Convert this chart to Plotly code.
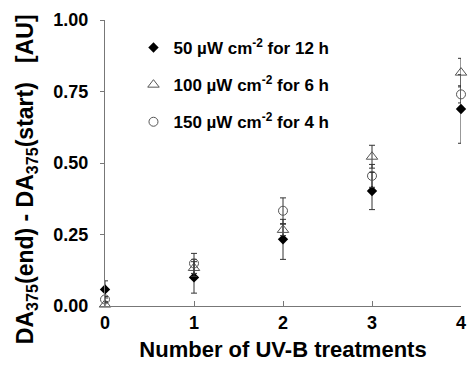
import plotly.graph_objects as go

treatments = [0, 1, 2, 3, 4]
names = ["50 µW cm<sup>-2</sup> for 12 h", "100 µW cm<sup>-2</sup> for 6 h", "150 µW cm<sup>-2</sup> for 4 h"]
s50 = [0.058, 0.100, 0.233, 0.402, 0.689]
s50_err = [0.03, 0.055, 0.07, 0.065, 0.12]
s100 = [0.005, 0.133, 0.266, 0.522, 0.816]
s100_err = [0.01, 0.03, 0.02, 0.04, 0.05]
s150 = [0.023, 0.149, 0.333, 0.455, 0.740]
s150_err = [0.01, 0.035, 0.045, 0.04, 0.03]
y_title = "DA<sub>375</sub>(end) - DA<sub>375</sub>(start)   [AU]"

font = "Liberation Sans, Arial, sans-serif"
fig = go.Figure()
specs = [
    (s50, s50_err, names[0], dict(symbol="diamond", size=8, color="black")),
    (s100, s100_err, names[1], dict(symbol="triangle-up-open", size=10, color="#555555", line=dict(width=1))),
    (s150, s150_err, names[2], dict(symbol="circle-open", size=9, color="#555555", line=dict(width=1))),
]
for i, (ys, es, nm, mk) in enumerate(specs):
    fig.add_trace(go.Scatter(
        x=treatments, y=ys, name=nm, mode="markers", marker=mk,
        error_y=dict(type="data", array=es, visible=True, color="#333333", thickness=1, width=3),
        cliponaxis=False, legendgroup=str(i),
    ))

fig.update_layout(
    width=471, height=373,
    margin=dict(l=105, r=5, t=20, b=67),
    paper_bgcolor="white", plot_bgcolor="white",
    font=dict(family=font, color="black"),
    showlegend=True,
    legend=dict(x=0.08, y=0.965, xanchor="left", yanchor="top", bgcolor="rgba(0,0,0,0)",
                font=dict(size=17, family=font, weight="bold"), tracegroupgap=12,
                itemwidth=30),
    xaxis=dict(range=[0, 4], tickvals=treatments, ticks="inside", ticklen=5, tickcolor="#777",
               showline=True, linecolor="#777", showgrid=False, zeroline=False,
               ticklabeloverflow="allow",
               tickfont=dict(size=18, family=font, weight="bold"),
               title=dict(text="Number of UV-B treatments", font=dict(size=22, family=font, weight="bold"), standoff=10)),
    yaxis=dict(range=[0, 1], tickvals=[0, 0.25, 0.5, 0.75, 1.0], tickformat=".2f", ticks="outside", ticklen=4,
               tickcolor="#777", showline=True, linecolor="#777", showgrid=False, zeroline=False,
               ticklabelstandoff=8,
               tickfont=dict(size=18, family=font, weight="bold")),
    annotations=[dict(text=y_title, textangle=-90, xref="paper", yref="paper",
                      x=-0.2216, y=0.444, xanchor="center", yanchor="middle", showarrow=False,
                      font=dict(size=23, family=font, weight="bold"))],
)
fig.write_html("out.html")
